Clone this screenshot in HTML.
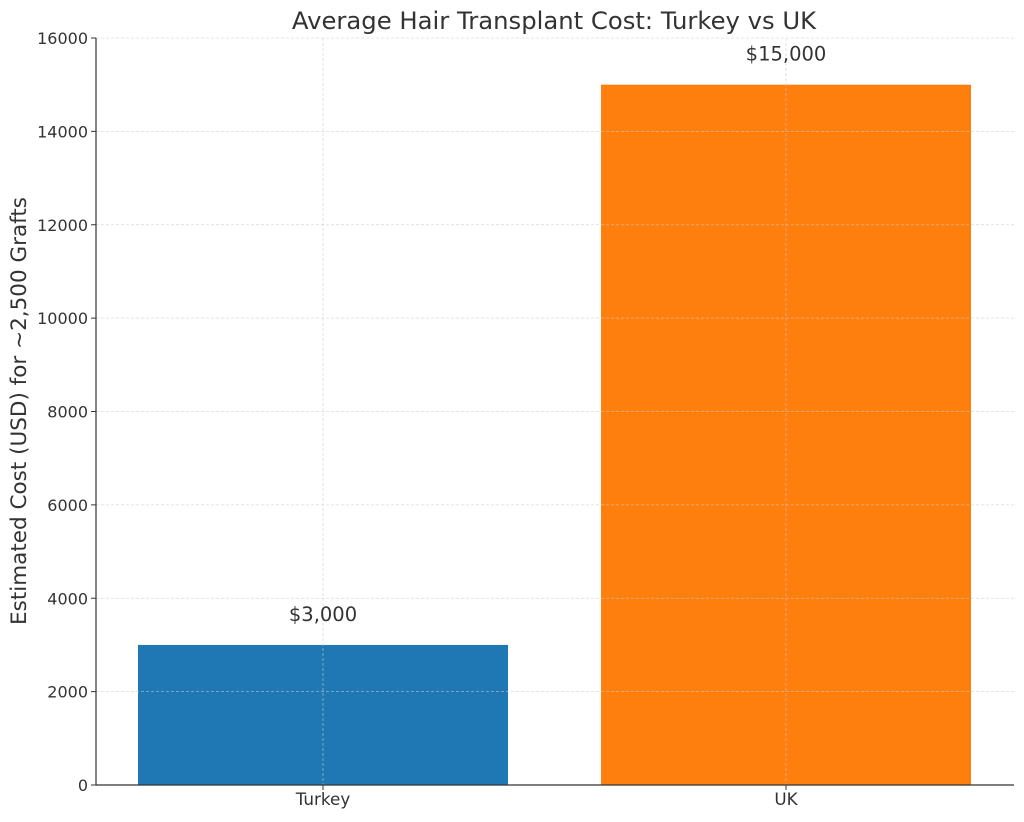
<!DOCTYPE html>
<html><head><meta charset="utf-8"><style>
body{margin:0;background:#fff;}
svg text{font-family:"DejaVu Sans","Liberation Sans",sans-serif;fill:#333;}
</style></head><body>
<svg width="1024" height="817" xmlns="http://www.w3.org/2000/svg">
<g id="bars"></g>
<g id="gridtop"></g>
<g id="axes"></g>
<text x="554" y="29" text-anchor="middle" font-size="24.3">Average Hair Transplant Cost: Turkey vs UK</text>
<text transform="translate(26,411) rotate(-90)" text-anchor="middle" font-size="21.5">Estimated Cost (USD) for ~2,500 Grafts</text>
</svg>
<script>
const categories = ["Turkey","UK"];
const values = [3000,15000];
const valueLabels = ["$3,000","$15,000"];
const yTicks = [0,2000,4000,6000,8000,10000,12000,14000,16000];
const colors = ["#1f77b4","#ff7f0e"];
const L=96,R=1014,T=38,B=785,yMax=16000;
const y=v=>B-(v/yMax)*(B-T);
const step=463, first=323;
const x=i=>first+step*i;
const bw=370;
const NS="http://www.w3.org/2000/svg";
function mk(tag,attrs,parent,txt){const e=document.createElementNS(NS,tag);for(const k in attrs)e.setAttribute(k,attrs[k]);if(txt!==undefined)e.textContent=txt;parent.appendChild(e);return e;}
const grid=document.getElementById('gridtop'),bars=document.getElementById('bars'),axes=document.getElementById('axes');
yTicks.forEach(t=>{
  const g=mk('line',{x1:L,x2:R,y1:y(t),y2:y(t),stroke:'#ccc','stroke-width':0.8,'stroke-dasharray':'3,2','stroke-opacity':0.7},grid);
  
  
  const tk=mk('line',{x1:L-5,x2:L,y1:y(t),y2:y(t),stroke:'#333','stroke-width':1},axes);
  
  
  const tl=mk('text',{x:L-8,y:y(t)+6,'text-anchor':'end','font-size':16},axes,String(t));
  
  
});
categories.forEach((c,i)=>{
  const r=mk('rect',{x:x(i)-bw/2,y:y(values[i]),width:bw,height:B-y(values[i]),fill:colors[i]},bars);
  
  
  const g=mk('line',{x1:x(i),x2:x(i),y1:T,y2:B,stroke:'#ccc','stroke-width':0.8,'stroke-dasharray':'3,2','stroke-opacity':0.7},grid);
  
  
  const vl=mk('text',{x:x(i),y:y(values[i])-24,'text-anchor':'middle','font-size':19.5},axes,valueLabels[i]);
  
  
  const tk=mk('line',{x1:x(i),x2:x(i),y1:B,y2:B+5,stroke:'#333','stroke-width':1},axes);
  
  
  const xl=mk('text',{x:x(i),y:B+20,'text-anchor':'middle','font-size':16.8},axes,c);
  
  
});
const ls=mk('line',{x1:L,x2:L,y1:T,y2:B,stroke:'#333','stroke-width':1.2},axes);


const bs=mk('line',{x1:L,x2:R,y1:B,y2:B,stroke:'#333','stroke-width':1.2},axes);


</script>
</body></html>
